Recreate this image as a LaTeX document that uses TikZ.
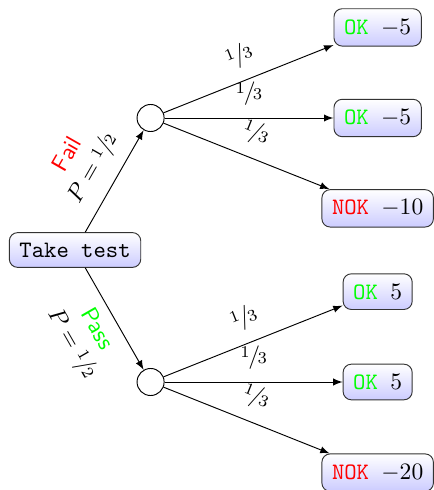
\documentclass[tikz,border=0pt]{standalone}
\usepackage{xfrac}
\usetikzlibrary{arrows}
\begin{document}
\begin{tikzpicture}[x=1pt,y=1pt,
  box/.style={draw=black!80, rounded corners=3.5pt, top color=white,
    bottom color=blue!20, font=\ttfamily, inner sep=4.3pt},
  chance/.style={circle, draw, minimum size=11.5pt, inner sep=0pt},
  branch/.style={-latex},
  prob/.style={above=2pt, sloped, midway},
  okc/.style={},
]
\useasboundingbox (-31.9,-102) rectangle (152.2,106.25);

% decision and chance nodes
\node[box] (take) at (0,0) {Take test};
\node[chance] (fail) at (32.1,56.1) {};
\node[chance] (pass) at (32.1,-56.1) {};

% outcomes
\node[box] (f1) at (128.6,94.6)  {\textcolor{green}{OK} $-5$};
\node[box] (f2) at (128.6,56.1)  {\textcolor{green}{OK} $-5$};
\node[box] (f3) at (128.6,17.7)  {\textcolor{red}{NOK} $-10$};
\node[box] (p1) at (128.6,-17.7) {\textcolor{green}{OK} $5$};
\node[box] (p2) at (128.6,-56.1) {\textcolor{green}{OK} $5$};
\node[box] (p3) at (128.6,-94.6) {\textcolor{red}{NOK} $-20$};

% first-level branches
\draw[branch] (take) -- node[above=2pt, sloped, align=center]
  {\textsf{\textcolor{red}{Fail}}\\$P=\sfrac{1}{2}$} (fail);
\draw[branch] (take) -- node[below=1pt, sloped, align=center]
  {\textsf{\textcolor{green}{Pass}}\\$P=\sfrac{1}{2}$} (pass);

% second-level branches
\foreach \leaf in {f1,f2,f3}
  \draw[branch] (fail) -- node[prob] {$\sfrac{1}{3}$} (\leaf);
\foreach \leaf in {p1,p2,p3}
  \draw[branch] (pass) -- node[prob] {$\sfrac{1}{3}$} (\leaf);
\end{tikzpicture}
\end{document}
